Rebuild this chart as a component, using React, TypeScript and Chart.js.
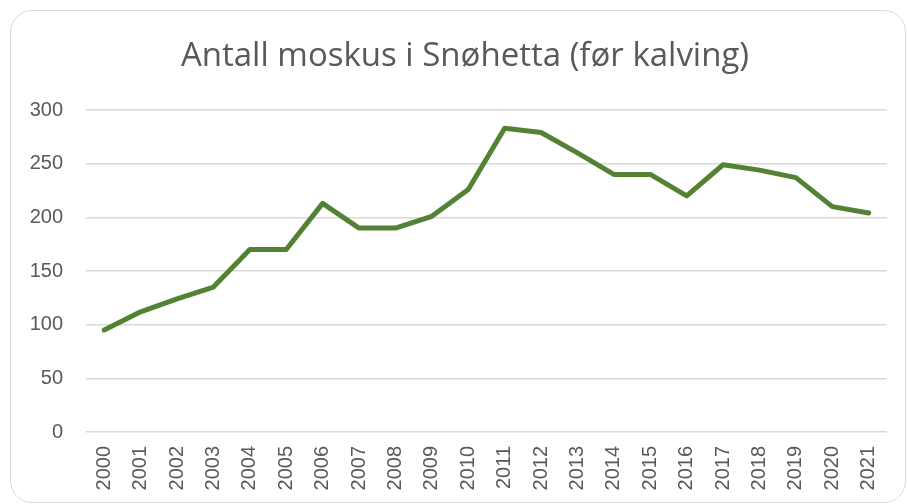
import React, { useEffect, useRef } from "react";
import { Chart, registerables } from "chart.js";

Chart.register(...registerables);

const years = ["2000","2001","2002","2003","2004","2005","2006","2007","2008","2009","2010","2011","2012","2013","2014","2015","2016","2017","2018","2019","2020","2021"];
const counts = [95, 112, 124, 135, 170, 170, 213, 190, 190, 201, 226, 283, 279, 260, 240, 240, 220, 249, 244, 237, 210, 204];
const yTicks = [0, 50, 100, 150, 200, 250, 300];
const titleText = "Antall moskus i Snøhetta (før kalving)";

const titlePlugin = {
  id: "customTitle",
  afterDraw(chart: any) {
    const c = chart.ctx;
    c.save();
    c.font = "33px 'Open Sans', sans-serif";
    c.fillStyle = "#595959";
    c.textAlign = "center";
    c.textBaseline = "middle";
    c.fillText(titleText, 465, 57);
    c.restore();
  },
};

export default function App() {
  const ref = useRef<HTMLCanvasElement | null>(null);
  useEffect(() => {
    document.body.style.margin = "0";
    const ctx = ref.current!;
    const font = "'Liberation Sans', Arial, sans-serif";
    const chart = new Chart(ctx, {
      type: "line",
      data: {
        labels: years,
        datasets: [
          {
            data: counts,
            borderColor: "#548235",
            backgroundColor: "#548235",
            borderWidth: 5,
            pointRadius: 0,
            tension: 0,
            borderCapStyle: "round",
            borderJoinStyle: "round",
          },
        ],
      },
      plugins: [titlePlugin],
      options: {
        animation: false,
        responsive: false,
        layout: { padding: { left: 0, right: 13, top: 110, bottom: 0 } },
        plugins: {
          legend: { display: false },
          tooltip: { enabled: false },
          title: { display: false },
        },
        scales: {
          x: {
            offset: true,
            grid: { display: false, drawTicks: false },
            border: { display: false },
            ticks: {
              color: "#595959",
              font: { family: font, size: 20 },
              minRotation: 90,
              maxRotation: 90,
              padding: 14,
              autoSkip: false,
            },
            afterFit: (s: any) => {
              s.height = 72;
            },
          },
          y: {
            min: 0,
            max: 300,
            afterBuildTicks: (s: any) => {
              s.ticks = yTicks.map((v) => ({ value: v }));
            },
            grid: { color: "#d9d9d9", lineWidth: 1.5, drawTicks: false },
            border: { display: false },
            ticks: {
              color: "#595959",
              font: { family: font, size: 20 },
              padding: 23,
            },
            afterFit: (s: any) => {
              s.width = 86;
            },
          },
        },
      },
    });
    return () => chart.destroy();
  }, []);
  return (
    <div style={{ position: "fixed", left: 0, top: 0, width: 907, height: 504, background: "#fff" }}>
      <div
        style={{
          position: "absolute",
          left: 10,
          top: 10,
          width: 896,
          height: 493,
          border: "1.5px solid #d9d9d9",
          borderRadius: 22,
          boxSizing: "border-box",
        }}
      />
      <canvas ref={ref} width={907} height={504} style={{ position: "absolute", left: 0, top: 0 }} />
    </div>
  );
}
